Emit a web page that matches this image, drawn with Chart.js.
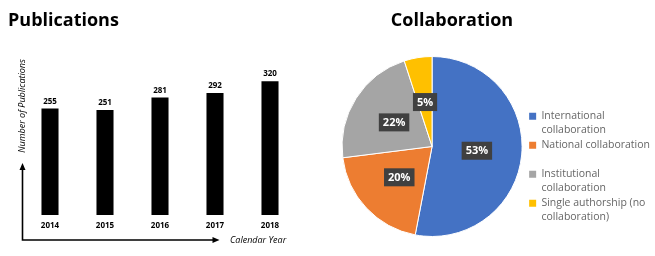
<!DOCTYPE html>
<html>
<head>
<meta charset="utf-8">
<script src="https://cdn.jsdelivr.net/npm/chart.js@4.4.1/dist/chart.umd.min.js"></script>
<style>
  body { margin: 0; background: #fff; }
  #left { position: absolute; left: 0; top: 0; width: 330px; height: 256px; }
  #right { position: absolute; left: 330px; top: 0; width: 325px; height: 256px; }
</style>
</head>
<body>
<div id="left"><canvas id="pubs" width="330" height="256"></canvas></div>
<div id="right"><canvas id="collab" width="325" height="256"></canvas></div>
<script>
const years = ['2014', '2015', '2016', '2017', '2018'];
const publications = [255, 251, 281, 292, 320];

const collabLabels = [
  ['International', 'collaboration'],
  ['National collaboration', ''],
  ['Institutional', 'collaboration'],
  ['Single authorship (no', 'collaboration)']
];
const collabShares = [53, 20, 22, 5];
const collabColors = ['#4472C4', '#ED7D31', '#A5A5A5', '#FFC000'];

// titles, bar values, arrow axes
const pubsDecor = {
  id: 'pubsDecor',
  afterDraw(chart) {
    const ctx = chart.ctx;
    const a = chart.chartArea;
    ctx.save();
    ctx.fillStyle = '#000';
    ctx.font = 'bold 18px "Open Sans"';
    ctx.textBaseline = 'alphabetic';
    ctx.fillText('Publications', 8, 26);

    ctx.font = 'bold 8px "Open Sans"';
    ctx.textAlign = 'center';
    ctx.textBaseline = 'middle';
    chart.getDatasetMeta(0).data.forEach((bar, i) => {
      ctx.fillText(publications[i], bar.x, bar.y - 7);
    });

    const ox = a.left, oy = a.bottom + 25;
    ctx.strokeStyle = '#000';
    ctx.lineWidth = 1.6;
    ctx.beginPath();
    ctx.moveTo(ox, oy - 71);
    ctx.lineTo(ox, oy);
    ctx.lineTo(ox + 191, oy);
    ctx.stroke();
    ctx.beginPath();
    ctx.moveTo(ox, oy - 77);
    ctx.lineTo(ox - 3, oy - 70);
    ctx.lineTo(ox + 3, oy - 70);
    ctx.closePath();
    ctx.fill();
    ctx.beginPath();
    ctx.moveTo(ox + 197, oy);
    ctx.lineTo(ox + 190, oy - 3);
    ctx.lineTo(ox + 190, oy + 3);
    ctx.closePath();
    ctx.fill();

    ctx.font = 'italic 9px "Open Sans"';
    ctx.textAlign = 'left';
    ctx.fillText('Calendar Year', 230, oy);
    ctx.translate(22.5, 106);
    ctx.rotate(-Math.PI / 2);
    ctx.textAlign = 'center';
    ctx.fillText('Number of Publications', 0, 0);
    ctx.restore();
  }
};

new Chart(document.getElementById('pubs'), {
  type: 'bar',
  data: {
    labels: years,
    datasets: [{
      data: publications,
      backgroundColor: '#000',
      barPercentage: 0.31,
      categoryPercentage: 1
    }]
  },
  options: {
    responsive: false,
    animation: false,
    layout: { padding: { left: 22.5, right: 32.5, top: 47.75, bottom: 19.4 } },
    plugins: { legend: { display: false }, tooltip: { enabled: false } },
    scales: {
      x: {
        grid: { display: false, drawTicks: false },
        border: { display: false },
        ticks: { color: '#000', padding: 6, font: { family: 'Open Sans', size: 8, weight: 'bold' } }
      },
      y: { display: false, min: 0, max: 400 }
    }
  },
  plugins: [pubsDecor]
});

// percentage boxes and title
const pieDecor = {
  id: 'pieDecor',
  afterDatasetsDraw(chart) {
    const ctx = chart.ctx;
    ctx.save();
    ctx.font = 'bold 11px "Open Sans"';
    ctx.textAlign = 'center';
    ctx.textBaseline = 'middle';
    chart.getDatasetMeta(0).data.forEach((arc, i) => {
      const p = arc.tooltipPosition();
      const t = collabShares[i] + '%';
      const w = ctx.measureText(t).width + 8, h = 18;
      ctx.fillStyle = '#404040';
      ctx.fillRect(p.x - w / 2, p.y - h / 2, w, h);
      ctx.fillStyle = '#fff';
      ctx.fillText(t, p.x, p.y + 0.5);
    });
    ctx.font = 'bold 18px "Open Sans"';
    ctx.fillStyle = '#000';
    ctx.textBaseline = 'alphabetic';
    ctx.fillText('Collaboration', 122, 26);
    ctx.restore();
  }
};

new Chart(document.getElementById('collab'), {
  type: 'pie',
  data: {
    labels: collabLabels,
    datasets: [{
      data: collabShares,
      backgroundColor: collabColors,
      borderColor: '#fff',
      borderWidth: 1
    }]
  },
  options: {
    responsive: false,
    animation: false,
    layout: { padding: { left: 7, top: 56, bottom: 19, right: -5 } },
    plugins: {
      tooltip: { enabled: false },
      legend: {
        position: 'right',
        align: 'start',
        title: { display: true, text: '', padding: { top: 41, bottom: 0 }, font: { size: 10 } },
        labels: {
          boxWidth: 7,
          boxHeight: 7,
          padding: 2,
          color: '#3a3a3a',
          font: { family: 'Open Sans', size: 10.5, lineHeight: 1.286 },
          generateLabels: () => collabLabels.map((text, i) => ({
            text: text,
            fillStyle: collabColors[i],
            strokeStyle: collabColors[i],
            lineWidth: 0,
            hidden: false,
            index: i
          }))
        }
      }
    }
  },
  plugins: [pieDecor]
});
</script>
</body>
</html>
